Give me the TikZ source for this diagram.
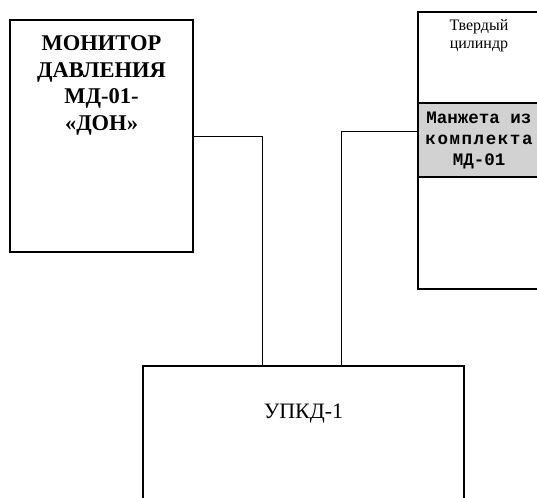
\documentclass[tikz,border=0pt]{standalone}
\usepackage{fontspec}
\setmainfont{Liberation Serif}
\newfontfamily\cuffmono{Liberation Mono}
\usetikzlibrary{positioning}

\begin{document}
\begin{tikzpicture}[
    x=1pt, y=-1pt,
    box/.style={
        rectangle,
        draw=black,
        line width=2.6pt,
        inner sep=0pt
    },
    wire/.style={
        draw=black,
        line width=0.9pt
    },
    montitle/.style={
        align=center,
        inner sep=0pt,
        font=\fontsize{22.5}{26.5}\selectfont\bfseries
    },
    upkdtitle/.style={
        inner sep=0pt,
        font=\fontsize{22}{24}\selectfont
    },
    cyltitle/.style={
        align=center,
        inner sep=0pt,
        font=\fontsize{16}{17.5}\selectfont
    },
    cufftitle/.style={
        align=center,
        inner sep=0pt,
        font=\cuffmono\fontsize{17.5}{21}\selectfont\bfseries
    }
]
\useasboundingbox (0,0) rectangle (537,497);
\clip (0,0) rectangle (537,497);

% pressure monitor
\node[box, minimum width=183pt, minimum height=232pt] (mon) at (101.5,136) {};
\node[montitle, below=17pt of mon.north] (montxt) {МОНИТОР\\ДАВЛЕНИЯ\\МД-01-\\«ДОН»};

% test unit
\node[box, minimum width=321pt, minimum height=170pt] (upkd) at (303.5,451) {};
\node[upkdtitle, below=39pt of upkd.north] (upkdtxt) {УПКД-1};

% cylinder with cuff
\node[box, minimum width=122pt, minimum height=91pt] (cyl) at (479,57.5) {};
\node[cyltitle, below=9pt of cyl.north] (cyltxt) {Твердый\\цилиндр};
\node[box, fill=gray!35, minimum width=122pt, minimum height=74pt] (cuff) at (479,140) {};
\node[cufftitle] (cufftxt) at (cuff.center) {Манжета из\\{\addfontfeature{LetterSpace=9}комплекта}\\МД-01};
\node[box, minimum width=122pt, minimum height=112pt] (cylbot) at (479,233) {};

% tubes
\draw[wire] (mon.east) -| ([xshift=-41.5pt]upkd.north);
\draw[wire] ([yshift=9pt]cuff.west) -| ([xshift=37.5pt]upkd.north);

\end{tikzpicture}
\end{document}
